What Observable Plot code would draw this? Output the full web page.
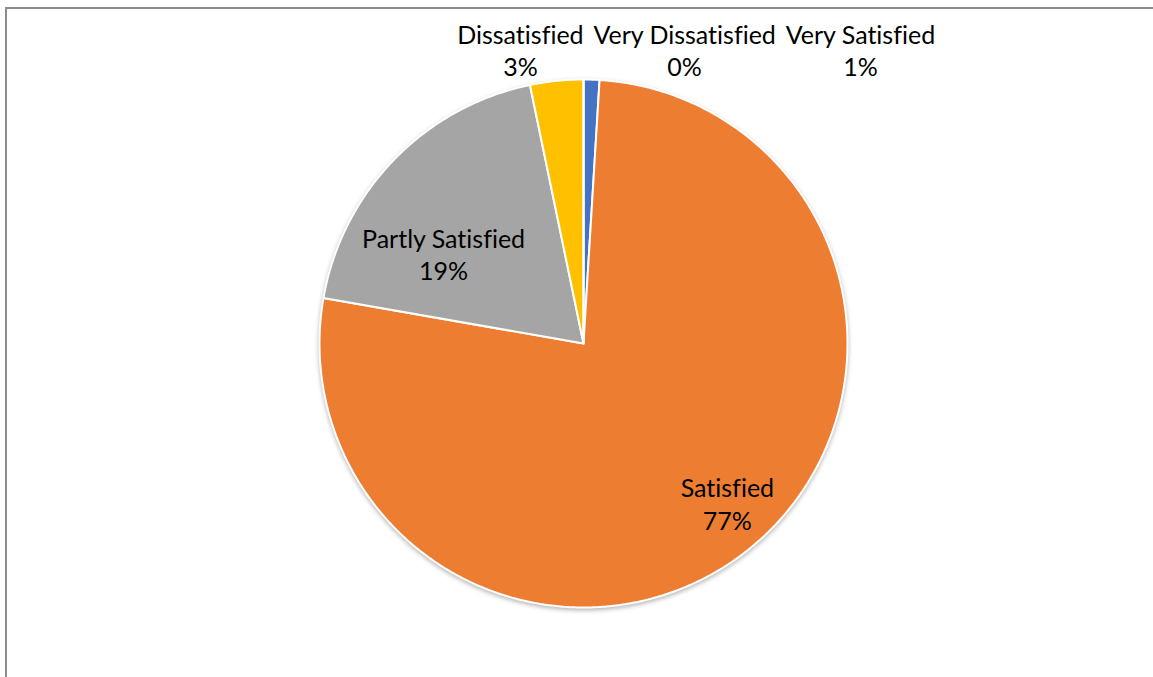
<!DOCTYPE html>
<html>
<head>
<meta charset="utf-8">
<script src="https://cdn.jsdelivr.net/npm/d3@7"></script>
<script src="https://cdn.jsdelivr.net/npm/@observablehq/plot@0.6"></script>
<style>
  body { margin: 0; background: #fff; overflow: hidden; }
  #wrap { position: relative; width: 1153px; height: 677px; overflow: hidden; }
  #border { position: absolute; left: 5px; top: 7px; width: 1300px; height: 800px;
            border: 2px solid #8c8c8c; box-sizing: border-box; }
  #chart { position: absolute; left: 0; top: 0; }
  #chart svg g[aria-label="line"] { filter: drop-shadow(0px 2px 2px rgba(0,0,0,0.28)); }
  #chart svg text { font-variant-ligatures: none; font-feature-settings: "liga" 0; }
</style>
</head>
<body>
<div id="wrap"><div id="border"></div><div id="chart"></div></div>
<script>
// ---- data ----
const categories = ["Very Satisfied", "Satisfied", "Partly Satisfied", "Dissatisfied", "Very Dissatisfied"];
const shares     = [0.97, 76.8, 19.0, 3.25, 0.0];   // percent of respondents
const colors     = ["#4472C4", "#ED7D31", "#A5A5A5", "#FFC000", "#5B9BD5"];

// ---- label layout (unit-circle coordinates, y up) ----
const labelX = [1.049, 0.545, -0.530, -0.239, 0.383];
const labelY = [1.114, -0.604, 0.340, 1.114, 1.114];

// ---- build slices ----
const total = d3.sum(shares);
const arcs = d3.pie().sort(null).startAngle(0).endAngle(2 * Math.PI)(shares);
const slicePts = [];
arcs.forEach((a, i) => {
  slicePts.push({cat: categories[i], x: 0, y: 0});
  const n = Math.max(1, Math.ceil((a.endAngle - a.startAngle) / (Math.PI / 360)));
  for (let k = 0; k <= n; k++) {
    const t = a.startAngle + (a.endAngle - a.startAngle) * k / n;
    slicePts.push({cat: categories[i], x: Math.sin(t), y: Math.cos(t)});
  }
});
const fmt = d3.format(".0%");
const labels = categories.map((c, i) => ({
  text: c + "\n" + fmt(shares[i] / total),
  x: labelX[i], y: labelY[i]
}));

const R = 264, cx = 583, cy = 343, W = 1153, H = 677;
const chart = Plot.plot({
  width: W, height: H,
  marginLeft: cx - R, marginRight: W - cx - R,
  marginTop: cy - R, marginBottom: H - cy - R,
  x: {domain: [-1, 1], axis: null},
  y: {domain: [-1, 1], axis: null},
  color: {domain: categories, range: colors},
  style: {fontFamily: "Lato, sans-serif", background: "transparent", overflow: "visible"},
  marks: [
    Plot.line(slicePts, {x: "x", y: "y", z: "cat", fill: "cat", stroke: "white",
                         strokeWidth: 2, curve: "linear-closed", strokeLinejoin: "round"}),
    Plot.text(labels, {x: "x", y: "y", text: "text", fontSize: 25, lineHeight: 1.3,
                       fill: "#000", textAnchor: "middle", lineAnchor: "middle"})
  ]
});
document.getElementById("chart").appendChild(chart);
</script>
</body>
</html>
